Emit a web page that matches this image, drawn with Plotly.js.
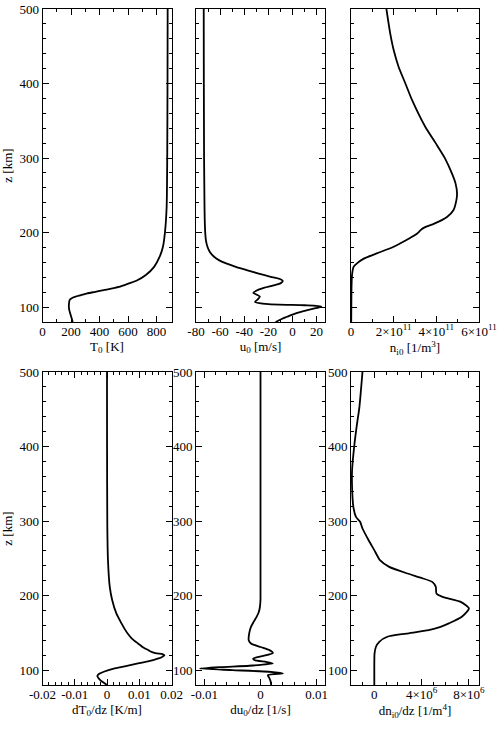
<!DOCTYPE html>
<html>
<head>
<meta charset="utf-8">
<script src="https://cdn.plot.ly/plotly-3.0.1.min.js"></script>
<style>html,body{margin:0;padding:0;background:#fff}#chart{width:500px;height:732px}</style>
</head>
<body>
<div id="chart"></div>
<script>
// ---- data ----
const zT0 = [80, 86, 91, 96, 100, 105, 109.4, 112, 114, 116, 118.4, 120.5, 122.8, 127, 131.8, 136, 143, 154, 167.6, 181, 200, 234.7, 300, 400, 500];
const T0  = [212, 203, 195, 188, 185, 186, 190, 205, 232, 270, 313, 370, 430, 536, 607, 665, 725, 783, 822, 845, 859, 871, 875, 877, 878];

const zU0 = [80, 84, 87, 90, 93.7, 97, 99.6, 101, 102.5, 104, 107, 110, 114, 117, 119, 122, 125, 128.5, 131.8, 135, 138, 140.7, 145, 149.7, 154, 158.6, 163, 167.6, 174, 181, 190, 199, 220, 243.6, 300, 400, 500];
const U0  = [-14, -9, -4.5, 0, 7, 15, 22, 24, 10, -20, -31, -29, -27, -30, -32.5, -30, -25, -17, -10, -8, -11, -18, -28, -38, -47, -55, -61, -65, -68.5, -70.5, -71.8, -72.3, -72.8, -73, -73.3, -73.5, -73.6];

const zNi0 = [80, 120, 140, 148, 154, 158.6, 165, 172, 181, 190, 196.6, 200, 203, 207, 212, 221, 230, 243.6, 252.6, 266, 279.4, 300, 320, 342, 378, 400, 422.6, 445, 467, 500];
const Ni0  = [0.01e11, 0.02e11, 0.04e11, 0.07e11, 0.12e11, 0.28e11, 0.6e11, 1.2e11, 2.0e11, 2.6e11, 3.0e11, 3.15e11, 3.25e11, 3.45e11, 3.9e11, 4.5e11, 4.8e11, 4.94e11, 4.97e11, 4.9e11, 4.73e11, 4.4e11, 3.97e11, 3.48e11, 2.86e11, 2.55e11, 2.23e11, 2.0e11, 1.84e11, 1.66e11];

const zdT0 = [80, 83, 86.6, 92, 95, 97.8, 102, 105, 109, 112, 115.6, 118, 120, 121.5, 122.3, 124, 126.8, 130, 135.8, 142, 149.2, 155, 162.6, 176, 194, 212, 247.5, 292, 400, 500];
const dT0  = [0.0, -0.001, -0.0021, -0.003, -0.0024, -0.001, 0.0021, 0.0055, 0.0096, 0.013, 0.016, 0.0172, 0.0178, 0.0172, 0.0154, 0.014, 0.0128, 0.0114, 0.0096, 0.0078, 0.0064, 0.0055, 0.0045, 0.0029, 0.0016, 0.00085, 0.0003, 0.0001, 0.00002, 0.0];

const zdU0 = [80, 85, 89, 93.3, 95.5, 97.8, 100, 102, 104, 105.8, 109, 111, 113.4, 115.6, 119, 123, 126.8, 131, 135.8, 140, 150, 158, 165, 171.5, 178, 185, 195, 203, 300, 400, 500];
const dU0  = [0.0019, 0.0018, 0.0016, 0.0013, 0.004, 0.0015, -0.005, -0.0108, -0.007, -0.002, 0.0022, 0.001, -0.0011, -0.0013, 0.0005, 0.0022, 0.0016, 0.0, -0.0017, -0.0021, -0.002, -0.0017, -0.0012, -0.0007, -0.0003, -0.0001, 0.0, 0.0, 0.0, 0.0, 0.0];

const zdNi0 = [80, 100, 122, 131.3, 138, 144.7, 149, 153.6, 158, 162.6, 171.5, 182.7, 191.6, 198.3, 202.8, 211.7, 218.4, 224, 229.6, 238.5, 247.5, 261, 274.3, 290, 299, 305.6, 319, 346, 368, 400, 426, 453, 500];
const dNi0  = [0, 0, 0.02e6, 0.14e6, 0.42e6, 1.1e6, 2.7e6, 4.6e6, 5.6e6, 6.3e6, 7.4e6, 8.0e6, 7.3e6, 5.76e6, 5.25e6, 5.2e6, 4.9e6, 3.9e6, 2.8e6, 1.26e6, 0.48e6, 0.0, -0.48e6, -1.0e6, -1.2e6, -1.55e6, -1.77e6, -1.88e6, -1.88e6, -1.7e6, -1.5e6, -1.26e6, -1.0e6];

// ---- tick labels ----
const zTickVals = [100, 200, 300, 400, 500];
const zTickText = ["100", "200", "300", "400", "500"];
const tT0Vals = [0, 200, 400, 600, 800];
const tT0Text = ["0", "200", "400", "600", "800"];
const tU0Vals = [-80, -60, -40, -20, 0, 20];
const tU0Text = ["-80", "-60", "-40", "-20", "0", "20"];
const tNi0Vals = [0, 2e11, 4e11, 6e11];
const tNi0Text = ["0", "2×10<sup>11</sup>", "4×10<sup>11</sup>", "6×10<sup>11</sup>"];
const tdT0Vals = [-0.02, -0.01, 0, 0.01, 0.02];
const tdT0Text = ["-0.02", "-0.01", "0", "0.01", "0.02"];
const tdU0Vals = [-0.01, 0, 0.01];
const tdU0Text = ["-0.01", "0", "0.01"];
const tdNi0Vals = [0, 4e6, 8e6];
const tdNi0Text = ["0", "4×10<sup>6</sup>", "8×10<sup>6</sup>"];

// ---- layout helpers ----
const W = 500, H = 732;
const cols = [[42.5, 171.5], [196, 325], [351, 479]];
const rows = [[9, 322], [372, 685]];
const FONT = "Liberation Serif";

function dx(c) { return [cols[c][0] / W, cols[c][1] / W]; }
function dy(r) { return [1 - rows[r][1] / H, 1 - rows[r][0] / H]; }

function xax(c, r, range, tv, tt, title, minorD) {
  const n = r * 3 + c + 1;
  return {
    domain: dx(c), anchor: 'y' + (n === 1 ? '' : n),
    range: range, tickmode: 'array', tickvals: tv, ticktext: tt,
    ticks: 'inside', ticklen: 6, tickwidth: 1, tickcolor: '#000',
    ticklabelstandoff: -3,
    showline: true, linecolor: '#000', linewidth: 1, mirror: 'allticks',
    showgrid: false, zeroline: false,
    minor: { tickmode: 'linear', tick0: 0, dtick: minorD, ticks: 'inside', ticklen: 3, tickcolor: '#000', showgrid: false },
    tickfont: { family: FONT, size: 13, color: '#000' },
    title: { text: title, font: { family: FONT, size: 13, color: '#000' }, standoff: 0 },
    fixedrange: true
  };
}
function yax(c, r, showLabels, title) {
  const n = r * 3 + c + 1;
  return {
    domain: dy(r), anchor: 'x' + (n === 1 ? '' : n),
    range: [80, 500], tickmode: 'array', tickvals: zTickVals, ticktext: zTickText,
    showticklabels: showLabels,
    ticks: 'inside', ticklen: 6, tickwidth: 1, tickcolor: '#000',
    showline: true, linecolor: '#000', linewidth: 1, mirror: 'allticks',
    showgrid: false, zeroline: false,
    minor: { tickmode: 'linear', tick0: 0, dtick: 20, ticks: 'inside', ticklen: 3, tickcolor: '#000', showgrid: false },
    tickfont: { family: FONT, size: 13, color: '#000' },
    title: { text: title, font: { family: FONT, size: 13, color: '#000' }, standoff: 4 },
    fixedrange: true
  };
}

const line = { color: '#000', width: 1.8, shape: 'spline', smoothing: 0.6 };
function tr(x, y, n) {
  return { x: x, y: y, type: 'scatter', mode: 'lines', line: line, hoverinfo: 'skip',
           xaxis: 'x' + (n === 1 ? '' : n), yaxis: 'y' + (n === 1 ? '' : n) };
}

const data = [
  tr(T0, zT0, 1), tr(U0, zU0, 2), tr(Ni0, zNi0, 3),
  tr(dT0, zdT0, 4), tr(dU0, zdU0, 5), tr(dNi0, zdNi0, 6)
];

const layout = {
  width: W, height: H, margin: { l: 0, r: 0, t: 0, b: 0 },
  paper_bgcolor: '#fff', plot_bgcolor: '#fff', showlegend: false,
  font: { family: FONT, size: 13, color: '#000' },
  xaxis:  xax(0, 0, [0, 905], tT0Vals, tT0Text, 'T<sub>0</sub> [K]', 100),
  xaxis2: xax(1, 0, [-80, 27], tU0Vals, tU0Text, 'u<sub>0</sub> [m/s]', 10),
  xaxis3: xax(2, 0, [0, 6e11], tNi0Vals, tNi0Text, 'n<sub>i0</sub> [1/m<sup>3</sup>]', 1e11),
  xaxis4: xax(0, 1, [-0.02, 0.02], tdT0Vals, tdT0Text, 'dT<sub>0</sub>/dz [K/m]', 0.002),
  xaxis5: xax(1, 1, [-0.0115, 0.0115], tdU0Vals, tdU0Text, 'du<sub>0</sub>/dz [1/s]', 0.002),
  xaxis6: xax(2, 1, [-1.97e6, 8.85e6], tdNi0Vals, tdNi0Text, 'dn<sub>i0</sub>/dz [1/m<sup>4</sup>]', 1e6),
  yaxis:  yax(0, 0, true, 'z [km]'),
  yaxis2: yax(1, 0, false, ''),
  yaxis3: yax(2, 0, false, ''),
  yaxis4: yax(0, 1, true, 'z [km]'),
  yaxis5: yax(1, 1, true, ''),
  yaxis6: yax(2, 1, true, '')
};

Plotly.newPlot('chart', data, layout, { staticPlot: true, displayModeBar: false });
</script>
</body>
</html>
